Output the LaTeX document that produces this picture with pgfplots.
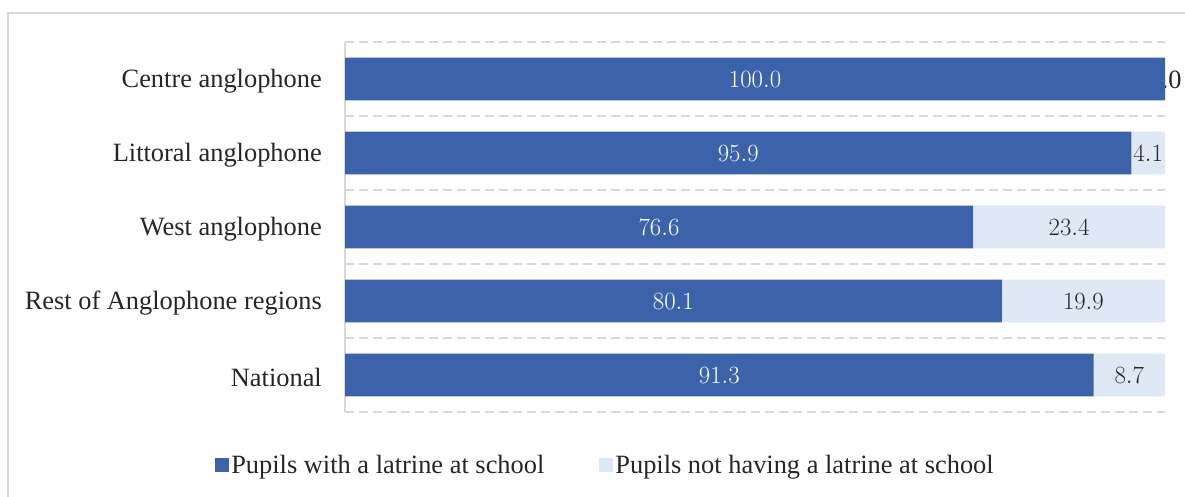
\documentclass[border=0pt]{standalone}
\usepackage{pgfplots}
\pgfplotsset{compat=1.18}
\usepackage{pgfplotstable}
\usepackage{fontspec}
\setmainfont{Liberation Serif}

\definecolor{withcol}{RGB}{60,99,170}
\definecolor{nocol}{RGB}{222,233,245}
\definecolor{gridcol}{RGB}{217,217,217}
\definecolor{txt}{RGB}{38,38,38}

% idx: 0 = top row
\pgfplotstableread{
idx with without
0 100.0 0.0
1 95.9 4.1
2 76.6 23.4
3 80.1 19.9
4 91.3 8.7
}\latrines

\begin{document}
\begin{tikzpicture}[x=1bp,y=1bp]
\path[use as bounding box] (0,0) rectangle (1185,-497);
\begin{scope}
\clip (0,0) rectangle (1185,-497);
\draw[gridcol, line width=1.5bp] (8,-13) rectangle (1200,-520);
\end{scope}
\begin{axis}[
  at={(345bp,-412bp)}, anchor=south west,
  scale only axis,
  width=820bp, height=370bp,
  xbar stacked,
  bar width=0.58,
  xmin=0, xmax=100,
  ymin=-0.5, ymax=4.5,
  y dir=reverse,
  hide x axis,
  axis y line*=left,
  y axis line style={gridcol, line width=1.5bp, -},
  ytick={0,...,4},
  yticklabels={Centre anglophone, Littoral anglophone, West anglophone, Rest of Anglophone regions, National},
  major tick length=0pt,
  minor ytick={-0.5,0.5,...,4.5},
  minor tick length=0pt,
  yminorgrids=true,
  minor grid style={gridcol, line width=1.5bp, dash pattern=on 9bp off 5bp},
  clip=false,
  font=\fontsize{26.5}{30}\selectfont,
  yticklabel style={text=txt, inner sep=0pt, xshift=-23bp, yshift=-2bp},
  point meta=explicit,
  nodes near coords={\pgfmathprintnumber[fixed,fixed zerofill,precision=1]{\pgfplotspointmeta}},
  legend columns=2,
  legend style={at={(rel axis cs:0.3177,-0.143)}, anchor=center, draw=none, fill=none,
    font=\fontsize{26.5}{30}\selectfont, text=txt,
    /tikz/every even column/.append style={column sep=53bp},
    inner sep=0pt, row sep=0pt},
  legend cell align=left,
  legend image code/.code={\fill[#1] (0bp,-7bp) rectangle (14bp,7bp);},
]
\addplot[fill=withcol, draw=none,
  every node near coord/.style={anchor=center, inner sep=0pt, text=white,
    font=\fontsize{26.5}{30}\selectfont, yshift=-1bp}]
  table[x=with, y=idx, meta=with] {\latrines};
\addlegendentry{Pupils with a latrine at school}
\addplot[fill=nocol, draw=none,
  every node near coord/.style={anchor=center, inner sep=0pt, text=txt,
    font=\fontsize{26.5}{30}\selectfont, yshift=-1bp}]
  table[x=without, y=idx, meta=without] {\latrines};
\addlegendentry{Pupils not having a latrine at school}
% zero-width segment gets no node near coord, so label it here
\node[text=txt, inner sep=0pt, yshift=-1bp] at (axis cs:100,0) {0.0};
\end{axis}
\end{tikzpicture}
\end{document}
